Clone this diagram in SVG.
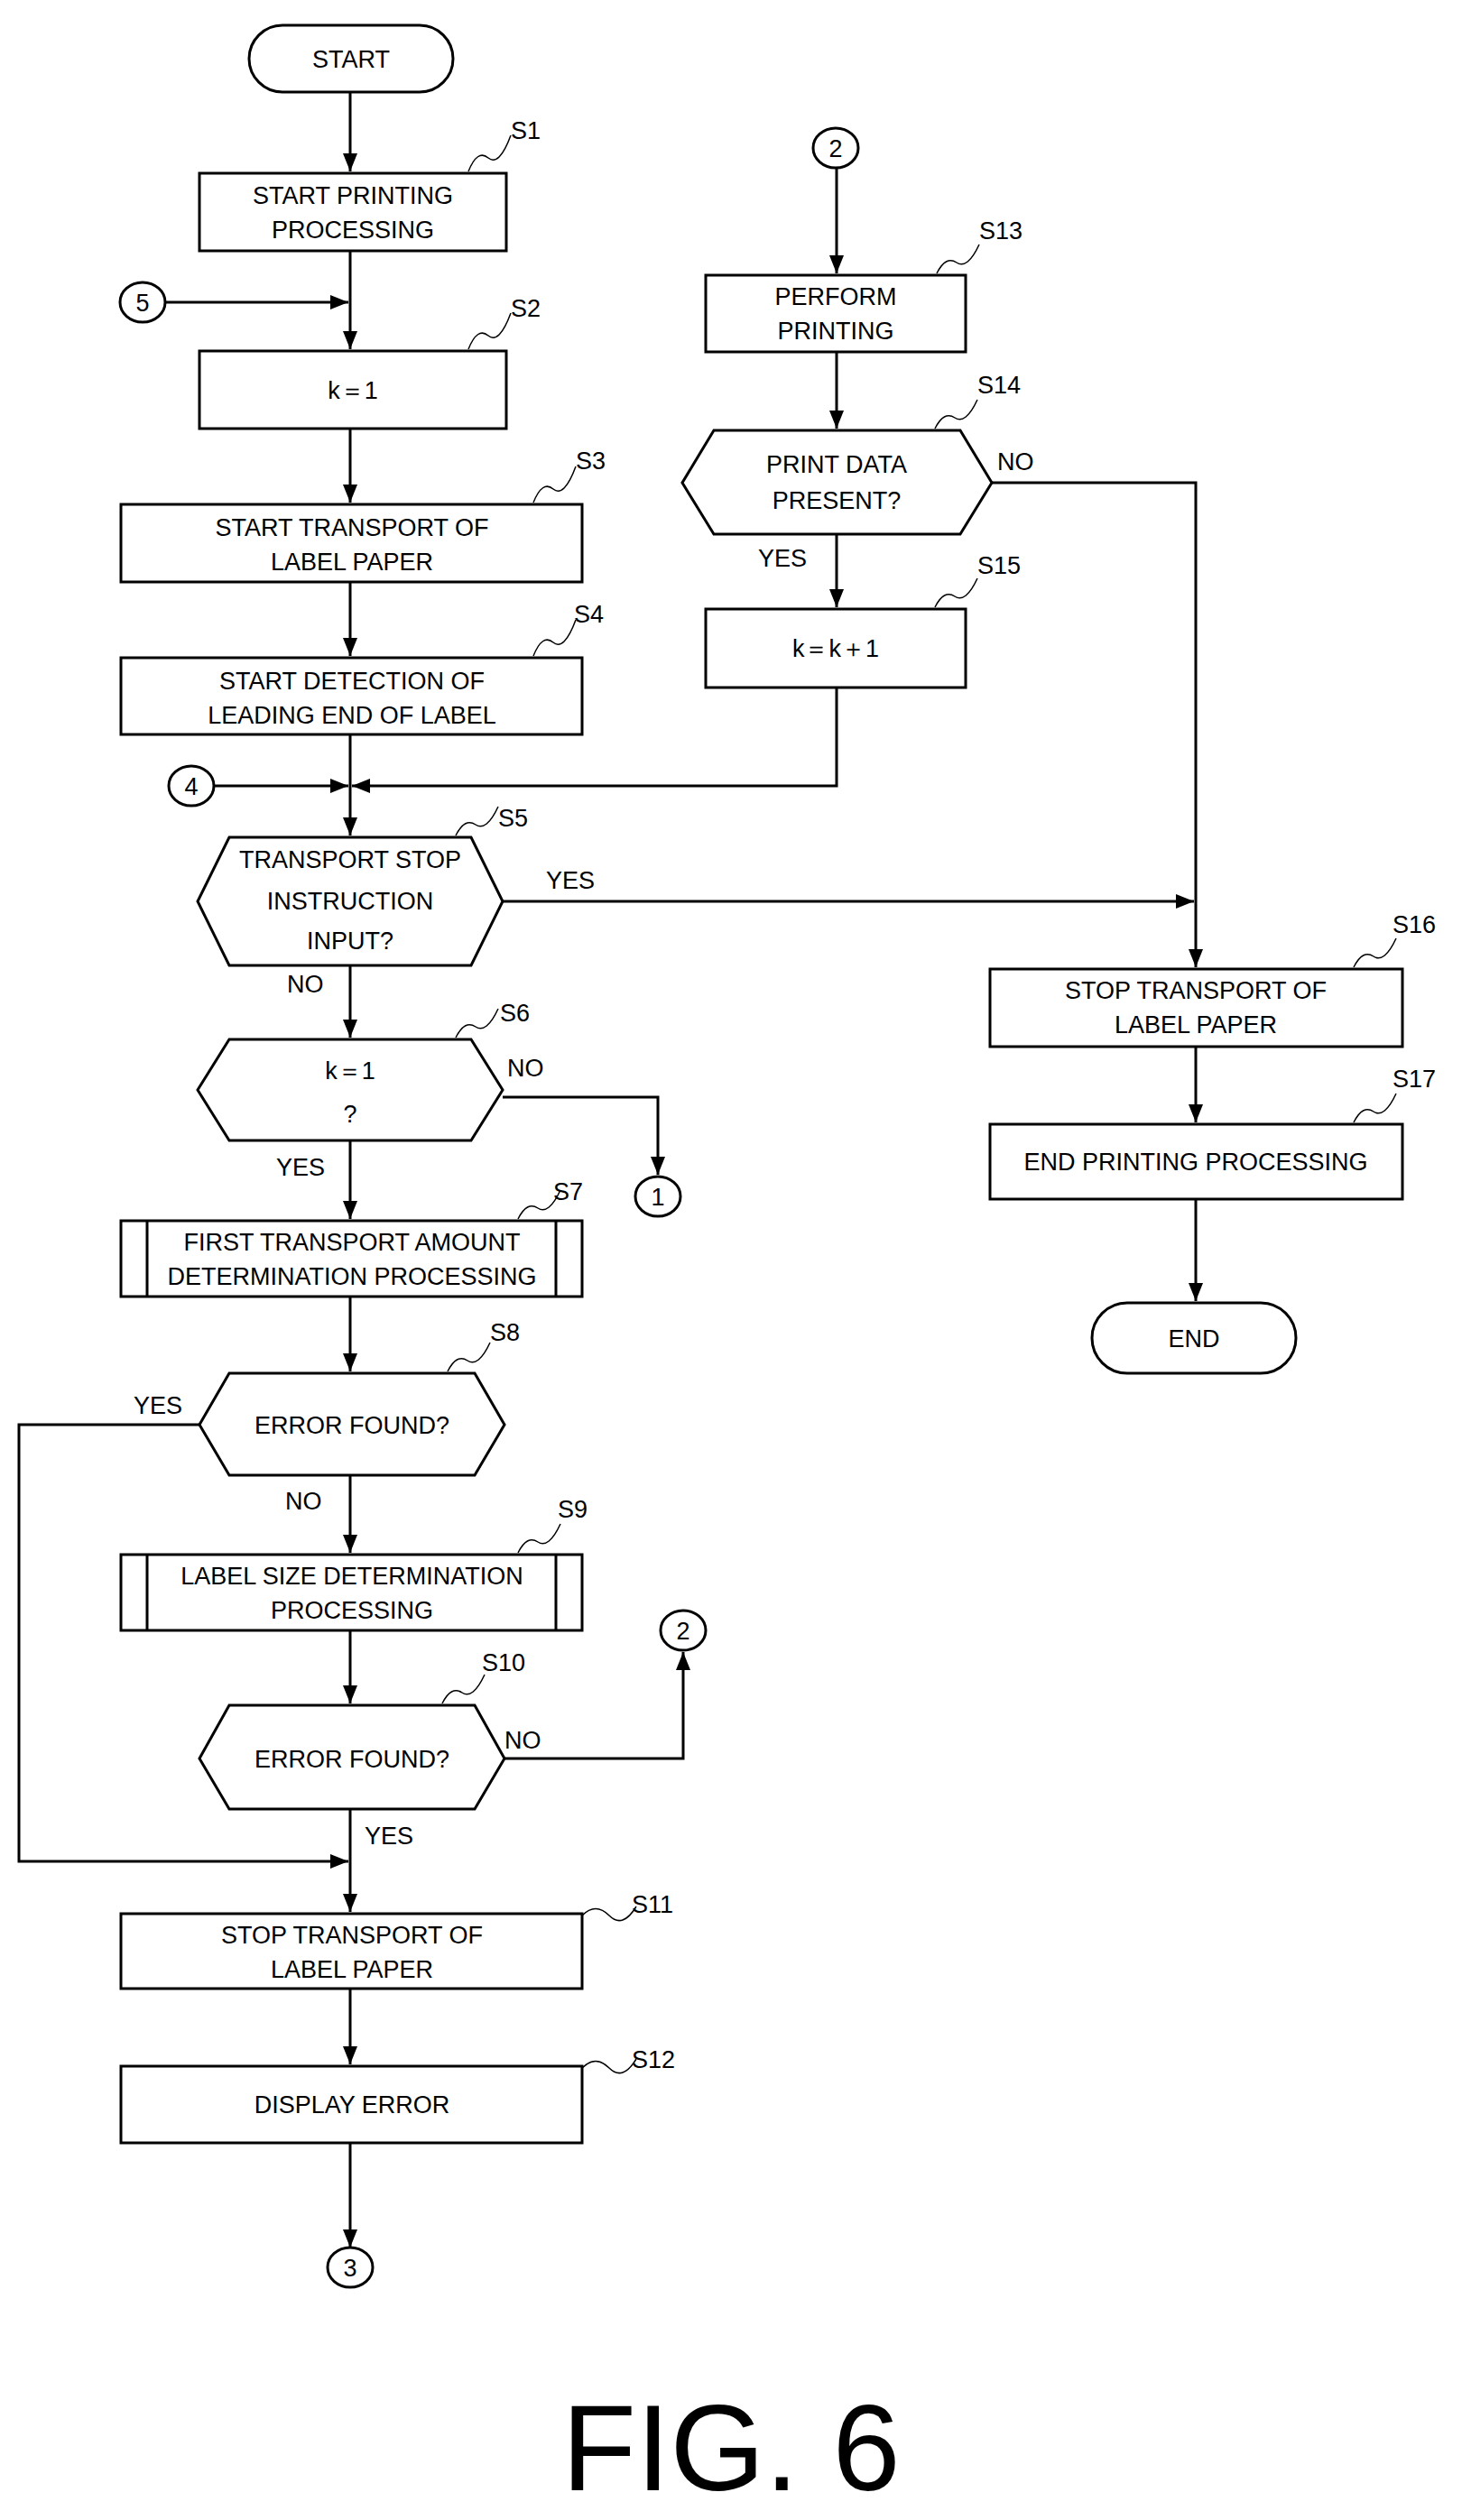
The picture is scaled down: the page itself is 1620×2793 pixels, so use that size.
<svg xmlns="http://www.w3.org/2000/svg" width="1620" height="2793" viewBox="0 0 1620 2793">
<style>
.b{fill:#fff;stroke:#000;stroke-width:3}
.t{font-family:"Liberation Sans",Arial,sans-serif;font-size:27px;text-anchor:middle;fill:#000}
.l{font-family:"Liberation Sans",Arial,sans-serif;font-size:27px;fill:#000}
.c{fill:none;stroke:#000;stroke-width:3}
.s{fill:none;stroke:#000;stroke-width:1.5}
</style>
<defs><marker id="a" markerWidth="10" markerHeight="10" refX="9" refY="5" orient="auto" markerUnits="userSpaceOnUse" viewBox="0 0 10 10"><path d="M0,0L10,5L0,10z"/></marker>
<marker id="h" markerWidth="20" markerHeight="16" refX="20" refY="8" orient="auto" markerUnits="userSpaceOnUse"><path d="M0,0L20,8L0,16z"/></marker></defs>
<rect width="1620" height="2793" fill="#fff"/>
<g id="connectors">
<path class="c" d="M388,102V190" marker-end="url(#h)"/>
<path class="c" d="M388,278V387" marker-end="url(#h)"/>
<path class="c" d="M184,335H386" marker-end="url(#h)"/>
<path class="c" d="M388,475V557" marker-end="url(#h)"/>
<path class="c" d="M388,645V727" marker-end="url(#h)"/>
<path class="c" d="M388,814V926" marker-end="url(#h)"/>
<path class="c" d="M236,871H386" marker-end="url(#h)"/>
<path class="c" d="M927,762V871H390" marker-end="url(#h)"/>
<path class="c" d="M388,1070V1150" marker-end="url(#h)"/>
<path class="c" d="M557,999H1323" marker-end="url(#h)"/>
<path class="c" d="M557,1216H729V1302" marker-end="url(#h)"/>
<path class="c" d="M388,1264V1351" marker-end="url(#h)"/>
<path class="c" d="M388,1437V1520" marker-end="url(#h)"/>
<path class="c" d="M221,1579H21V2063H386" marker-end="url(#h)"/>
<path class="c" d="M388,1635V1721" marker-end="url(#h)"/>
<path class="c" d="M388,1807V1888" marker-end="url(#h)"/>
<path class="c" d="M559,1949H757V1831" marker-end="url(#h)"/>
<path class="c" d="M388,2005V2119" marker-end="url(#h)"/>
<path class="c" d="M388,2204V2288" marker-end="url(#h)"/>
<path class="c" d="M388,2375V2491" marker-end="url(#h)"/>
<path class="c" d="M927,186V303" marker-end="url(#h)"/>
<path class="c" d="M927,390V475" marker-end="url(#h)"/>
<path class="c" d="M927,592V673" marker-end="url(#h)"/>
<path class="c" d="M1099,535H1325V1072" marker-end="url(#h)"/>
<path class="c" d="M1325,1160V1244" marker-end="url(#h)"/>
<path class="c" d="M1325,1329V1442" marker-end="url(#h)"/>
<text class="l" x="605" y="985">YES</text>
<text class="l" x="318" y="1100">NO</text>
<text class="l" x="562" y="1193">NO</text>
<text class="l" x="306" y="1303">YES</text>
<text class="l" x="148" y="1567">YES</text>
<text class="l" x="316" y="1673">NO</text>
<text class="l" x="559" y="1938">NO</text>
<text class="l" x="404" y="2044">YES</text>
<text class="l" x="1105" y="521">NO</text>
<text class="l" x="840" y="628">YES</text>
</g>
<g id="START"><rect class="b" x="276" y="28" width="226" height="74" rx="37"/><text class="t" x="389" y="75">START</text></g>
<g id="S1"><rect class="b" x="221" y="192" width="340" height="86"/><text class="t" x="391" y="226">START PRINTING</text><text class="t" x="391" y="264">PROCESSING</text><path class="s" d="M519,190q10,-25 22,-15t25,-25"/><text class="l" x="566" y="154">S1</text></g>
<g id="C5"><ellipse class="b" cx="158" cy="335" rx="25" ry="22"/><text class="t" x="158" y="345">5</text></g>
<g id="S2"><rect class="b" x="221" y="389" width="340" height="86"/><text class="t" x="391" y="442">k＝1</text><path class="s" d="M519,387q10,-25 22,-15t25,-25"/><text class="l" x="566" y="351">S2</text></g>
<g id="S3"><rect class="b" x="134" y="559" width="511" height="86"/><text class="t" x="390" y="594">START TRANSPORT OF</text><text class="t" x="390" y="632">LABEL PAPER</text><path class="s" d="M591,557q10,-25 22,-15t25,-25"/><text class="l" x="638" y="520">S3</text></g>
<g id="S4"><rect class="b" x="134" y="729" width="511" height="85"/><text class="t" x="390" y="764">START DETECTION OF</text><text class="t" x="390" y="802">LEADING END OF LABEL</text><path class="s" d="M591,727q10,-25 22,-15t25,-25"/><text class="l" x="636" y="690">S4</text></g>
<g id="C4"><ellipse class="b" cx="212" cy="871" rx="25" ry="22"/><text class="t" x="212" y="881">4</text></g>
<g id="S5"><path class="b" d="M254,928H522L557,999L522,1070H254L219,999Z"/><text class="t" x="388" y="962">TRANSPORT STOP</text><text class="t" x="388" y="1008">INSTRUCTION</text><text class="t" x="388" y="1052">INPUT?</text><path class="s" d="M505,926q10,-20 22,-12t25,-20"/><text class="l" x="552" y="916">S5</text></g>
<g id="S6"><path class="b" d="M254,1152H522L557,1208L522,1264H254L219,1208Z"/><text class="t" x="388" y="1196">k＝1</text><text class="t" x="388" y="1244">?</text><path class="s" d="M505,1150q10,-20 22,-12t25,-20"/><text class="l" x="554" y="1132">S6</text></g>
<g id="C1"><ellipse class="b" cx="729" cy="1326" rx="25" ry="22"/><text class="t" x="729" y="1336">1</text></g>
<g id="S7"><rect class="b" x="134" y="1353" width="511" height="84"/><path class="s" d="M163,1353V1437M616,1353V1437" style="stroke-width:3"/><text class="t" x="390" y="1386">FIRST TRANSPORT AMOUNT</text><text class="t" x="390" y="1424">DETERMINATION PROCESSING</text><path class="s" d="M574,1351q10,-20 22,-12t25,-20"/><text class="l" x="613" y="1330">S7</text></g>
<g id="S8"><path class="b" d="M254,1522H526L559,1579L526,1635H254L221,1579Z"/><text class="t" x="390" y="1589">ERROR FOUND?</text><path class="s" d="M496,1520q10,-20 22,-12t25,-20"/><text class="l" x="543" y="1486">S8</text></g>
<g id="S9"><rect class="b" x="134" y="1723" width="511" height="84"/><path class="s" d="M163,1723V1807M616,1723V1807" style="stroke-width:3"/><text class="t" x="390" y="1756">LABEL SIZE DETERMINATION</text><text class="t" x="390" y="1794">PROCESSING</text><path class="s" d="M574,1721q10,-20 22,-12t25,-20"/><text class="l" x="618" y="1682">S9</text></g>
<g id="C2b"><ellipse class="b" cx="757" cy="1807" rx="25" ry="22"/><text class="t" x="757" y="1817">2</text></g>
<g id="S10"><path class="b" d="M254,1890H526L559,1949L526,2005H254L221,1949Z"/><text class="t" x="390" y="1959">ERROR FOUND?</text><path class="s" d="M490,1888q10,-20 22,-12t25,-20"/><text class="l" x="534" y="1852">S10</text></g>
<g id="S11"><rect class="b" x="134" y="2121" width="511" height="83"/><text class="t" x="390" y="2154">STOP TRANSPORT OF</text><text class="t" x="390" y="2192">LABEL PAPER</text><path class="s" d="M645,2123q15,-15 30,0t30,-10"/><text class="l" x="700" y="2120">S11</text></g>
<g id="S12"><rect class="b" x="134" y="2290" width="511" height="85"/><text class="t" x="390" y="2342">DISPLAY ERROR</text><path class="s" d="M645,2292q15,-15 30,0t30,-10"/><text class="l" x="700" y="2292">S12</text></g>
<g id="C3"><ellipse class="b" cx="388" cy="2513" rx="25" ry="22"/><text class="t" x="388" y="2523">3</text></g>
<g id="C2"><ellipse class="b" cx="926" cy="164" rx="25" ry="22"/><text class="t" x="926" y="174">2</text></g>
<g id="S13"><rect class="b" x="782" y="305" width="288" height="85"/><text class="t" x="926" y="338">PERFORM</text><text class="t" x="926" y="376">PRINTING</text><path class="s" d="M1038,303q10,-20 22,-12t25,-20"/><text class="l" x="1085" y="265">S13</text></g>
<g id="S14"><path class="b" d="M791,477H1064L1099,535L1064,592H791L756,535Z"/><text class="t" x="927" y="524">PRINT DATA</text><text class="t" x="927" y="564">PRESENT?</text><path class="s" d="M1036,475q10,-20 22,-12t25,-20"/><text class="l" x="1083" y="436">S14</text></g>
<g id="S15"><rect class="b" x="782" y="675" width="288" height="87"/><text class="t" x="926" y="728">k＝k＋1</text><path class="s" d="M1036,673q10,-20 22,-12t25,-20"/><text class="l" x="1083" y="636">S15</text></g>
<g id="S16"><rect class="b" x="1097" y="1074" width="457" height="86"/><text class="t" x="1325" y="1107">STOP TRANSPORT OF</text><text class="t" x="1325" y="1145">LABEL PAPER</text><path class="s" d="M1500,1072q10,-20 22,-12t25,-20"/><text class="l" x="1543" y="1034">S16</text></g>
<g id="S17"><rect class="b" x="1097" y="1246" width="457" height="83"/><text class="t" x="1325" y="1297">END PRINTING PROCESSING</text><path class="s" d="M1500,1244q10,-20 22,-12t25,-20"/><text class="l" x="1543" y="1205">S17</text></g>
<g id="END"><rect class="b" x="1210" y="1444" width="226" height="78" rx="39"/><text class="t" x="1323" y="1493">END</text></g>
<text class="t" x="810" y="2760" style="font-size:135px">FIG. 6</text>
</svg>
